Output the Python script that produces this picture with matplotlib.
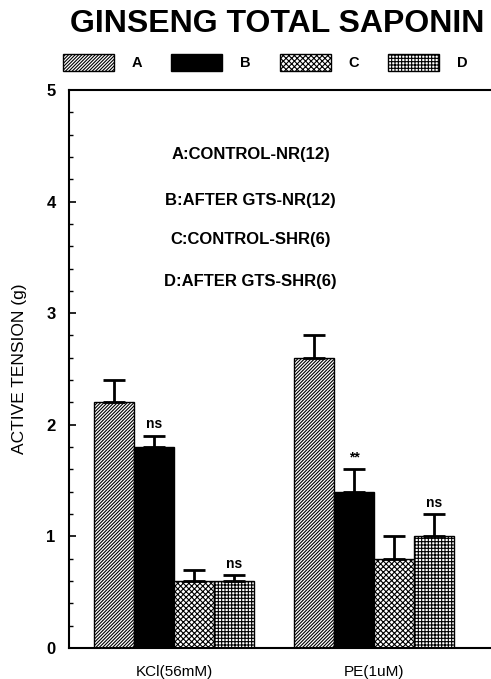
import matplotlib
matplotlib.use("Agg")
import matplotlib.pyplot as plt
import numpy as np

plt.rcParams['font.family'] = ['Liberation Sans', 'DejaVu Sans']
plt.rcParams['hatch.linewidth'] = 0.8

groups = ["KCl(56mM)", "PE(1uM)"]
series = ["A", "B", "C", "D"]
values = {
    "A": [2.2, 2.6],
    "B": [1.8, 1.4],
    "C": [0.6, 0.8],
    "D": [0.6, 1.0],
}
errors = {
    "A": [0.2, 0.2],
    "B": [0.1, 0.2],
    "C": [0.1, 0.2],
    "D": [0.05, 0.2],
}
signif = {
    "A": ["", ""],
    "B": ["ns", "**"],
    "C": ["", ""],
    "D": ["ns", "ns"],
}
descriptions = ["A:CONTROL-NR(12)", "B:AFTER GTS-NR(12)",
                "C:CONTROL-SHR(6)", "D:AFTER GTS-SHR(6)"]

styles = {
    "A": dict(facecolor="white", hatch="/" * 10),
    "B": dict(facecolor="black", hatch=None),
    "C": dict(facecolor="white", hatch="x" * 6),
    "D": dict(facecolor="white", hatch="+" * 5),
}

fig = plt.figure(figsize=(4.91, 6.79), dpi=100)
ax = fig.add_axes([0.1415, 0.0457, 0.8585, 0.8218])

x = np.arange(len(groups))
width = 0.2
offsets = [-0.3, -0.1, 0.1, 0.3]
handles = []
for s, off in zip(series, offsets):
    st = styles[s]
    b = ax.bar(x + off, values[s], width, facecolor=st["facecolor"],
               hatch=st["hatch"], edgecolor="black", linewidth=1.0, zorder=2)
    handles.append(b)
    ax.errorbar(x + off, values[s], yerr=[np.zeros(len(x)), errors[s]],
                fmt="none", ecolor="black", elinewidth=2, capsize=8,
                capthick=2, zorder=3)
    for xi, v, e, t in zip(x + off, values[s], errors[s], signif[s]):
        if t:
            ax.text(xi, v + e + 0.04, t, ha="center", va="bottom",
                    fontsize=10, fontweight="bold")

ax.set_xlim(-0.525, 1.5825)
ax.set_ylim(0, 5)
ax.set_yticks([0, 1, 2, 3, 4, 5])
ax.set_yticks(np.arange(0, 5.01, 0.2), minor=True)
ax.tick_params(axis="y", which="major", direction="in", length=5, width=1.2,
               labelsize=12, pad=10)
ax.tick_params(axis="y", which="minor", direction="in", length=3, width=1)
for lab in ax.get_yticklabels():
    lab.set_fontweight("bold")
ax.set_xticks(x)
ax.set_xticklabels(groups, fontsize=11)
ax.tick_params(axis="x", length=0, pad=12)
ax.spines["right"].set_visible(False)
for sp in ["left", "top", "bottom"]:
    ax.spines[sp].set_linewidth(1.5)

ax.set_ylabel("ACTIVE TENSION (g)", fontsize=12.5, labelpad=14)

desc_y = [4.42, 4.01, 3.66, 3.28]
for t, yy in zip(descriptions, desc_y):
    ax.text(0.38, yy, t, ha="center", va="center", fontsize=12,
            fontweight="bold")

fig.text(0.565, 0.965, "GINSENG TOTAL SAPONIN", ha="center", va="center",
         fontsize=23, fontweight="bold")

leg = fig.legend(handles, series, loc="center", bbox_to_anchor=(0.54, 0.908),
                 ncol=4, frameon=False, handlelength=3.5, handleheight=1.5,
                 columnspacing=2.0, handletextpad=1.2,
                 prop=dict(size=10.5, weight="bold"))

fig.savefig("out.png", dpi=100)
